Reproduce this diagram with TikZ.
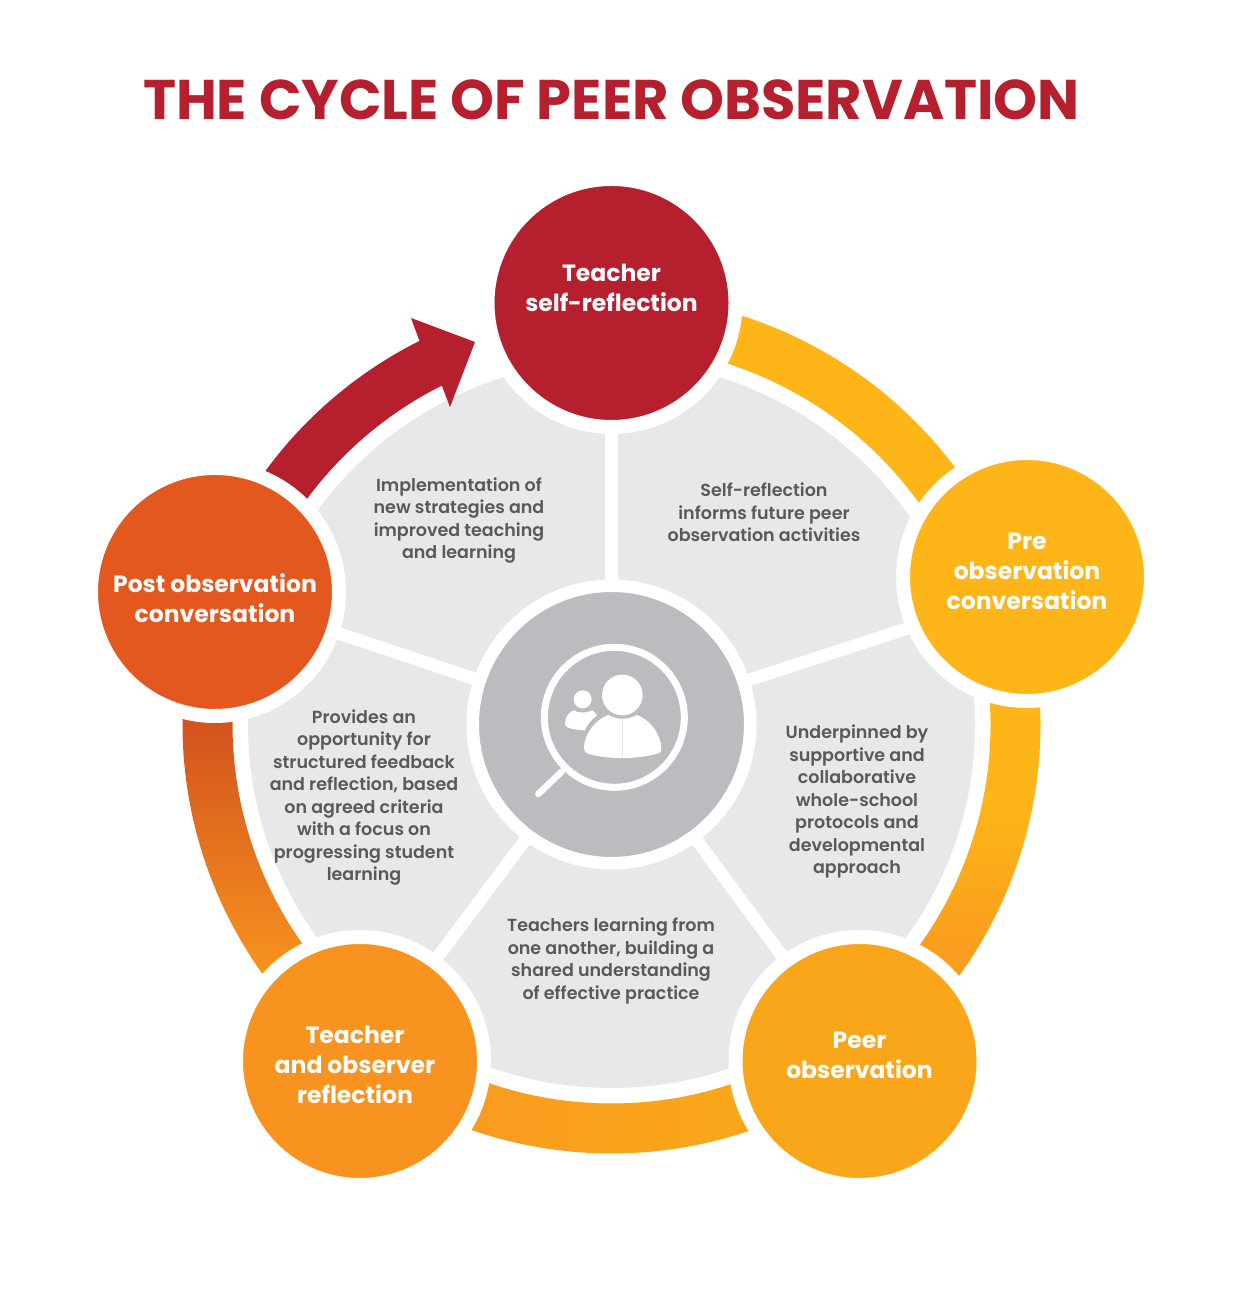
\documentclass[tikz,border=0pt]{standalone}
\usepackage{xcolor}
\usepackage{fontspec}
\setmainfont{Poppins}
\newfontfamily\blurbfont{Poppins SemiBold}
\usepackage{tikz}
\usetikzlibrary{calc}

\definecolor{vicred}{HTML}{B61F2E}
\definecolor{vicamber}{HTML}{FDB518}
\definecolor{vicgold}{HTML}{FAA61A}
\definecolor{vicorange}{HTML}{F7931E}
\definecolor{vicrust}{HTML}{E2581F}
\definecolor{vicdeep}{HTML}{D2521E}
\definecolor{vicmid}{HTML}{F99D1E}
\definecolor{vicpanel}{HTML}{E7E8EA}
\definecolor{vichub}{HTML}{BBBCBF}
\definecolor{vicink}{HTML}{58595B}

% gradients along the ring
\pgfdeclareverticalshading{rightband}{100bp}{color(0bp)=(vicmid); color(37bp)=(vicmid); color(51.5bp)=(vicamber); color(100bp)=(vicamber)}
\pgfdeclareverticalshading{leftband}{100bp}{color(0bp)=(vicorange); color(35bp)=(vicorange); color(61.4bp)=(vicdeep); color(100bp)=(vicdeep)}
\pgfdeclarehorizontalshading{lowerband}{100bp}{color(0bp)=(vicorange); color(40bp)=(vicmid); color(60bp)=(vicgold); color(100bp)=(vicgold)}

\newcommand{\ringpart}[2]{(#1:429) arc[start angle=#1, end angle=#2, radius=429] -- (#2:379) arc[start angle=#2, end angle=#1, radius=379] -- cycle}

\begin{document}
\begin{tikzpicture}[
    x=1pt, y=1pt,
    stage/.style={circle, draw=white, line width=14pt, outer sep=0pt, inner sep=0pt, minimum size=248pt},
    stagetext/.style={align=center, text=white, font=\fontsize{23.5}{30}\selectfont\bfseries},
    blurb/.style={align=center, text=vicink, font=\fontsize{17.5}{22.5}\selectfont\blurbfont},
    spoke/.style={draw=white, line width=12.5pt}
]
\useasboundingbox (0,0) rectangle (1240,1292);

\node[text=vicred, font=\fontsize{55.9}{60}\selectfont\bfseries] (title) at (611.5,1192) {THE CYCLE OF PEER OBSERVATION};

\node[circle, fill=vicpanel, inner sep=0pt, minimum size=727pt] (disc) at (611.5,567.5) {};

% ring round the panel
\begin{scope}[shift={(disc.center)}]
\fill[vicamber] \ringpart{90}{19.5};
\shade[shading=rightband] \ringpart{19.5}{-53.6};
\shade[shading=lowerband] \ringpart{-53.6}{-126.5};
\shade[shading=leftband] \ringpart{161.5}{233.5};
\fill[vicred] (155:429) arc[start angle=155, end angle=116.6, radius=429]
    -- (-200.5,406.5) -- (-136.5,382.5) -- (-161.5,317.5)
    -- (116.6:379) arc[start angle=116.6, end angle=155, radius=379] -- cycle;
\end{scope}

\node[circle, draw=white, fill=vichub, line width=12.5pt, outer sep=0pt, inner sep=0pt, minimum size=277.5pt] (hub) at (disc.center) {};

\node[stage, fill=vicred] (reflect) at (611.5,989) {};
\node[stage, fill=vicamber] (pre) at (1027,715) {};
\node[stage, fill=vicgold] (peer) at (859.5,231) {};
\node[stage, fill=vicorange] (joint) at (360,231) {};
\node[stage, fill=vicrust] (post) at (215,700) {};

\coordinate (prefoot) at (912,665);
\draw[spoke] (hub) -- (reflect);
\draw[spoke] (hub) -- (prefoot);
\draw[spoke] (hub) -- (peer);
\draw[spoke] (hub) -- (joint);
\draw[spoke] (hub) -- (post);

\node[stagetext] (reflectlabel) at ([yshift=15pt]reflect.center) {Teacher\\self-reflection};
\node[stagetext] (prelabel) at ([yshift=6pt]pre.center) {Pre\\observation\\conversation};
\node[stagetext] (peerlabel) at ([yshift=6pt]peer.center) {Peer\\observation};
\node[stagetext] (jointlabel) at ([xshift=-5pt,yshift=-4pt]joint.center) {Teacher\\and observer\\reflection};
\node[stagetext] (postlabel) at ([yshift=-6pt]post.center) {Post observation\\conversation};

\node[blurb] (blurbfive) at (459,771.5) {Implementation of\\new strategies and\\improved teaching\\and learning};
\node[blurb] (blurbone) at (764,779.5) {Self-reflection\\informs future peer\\observation activities};
\node[blurb] (blurbtwo) at (857,490.5) {Underpinned by\\supportive and\\collaborative\\whole-school\\protocols and\\developmental\\approach};
\node[blurb] (blurbthree) at (611,331) {Teachers learning from\\one another, building a\\shared understanding\\of effective practice};
\node[blurb] (blurbfour) at (364,494.5) {Provides an\\opportunity for\\structured feedback\\and reflection, based\\on agreed criteria\\with a focus on\\progressing student\\learning};

% magnifier and people, traced in a 3x grid
\begin{scope}[shift={(460,722)}, x=0.3333pt, y=-0.3333pt]
\draw[white, line width=7pt] (463,442) circle (210);
\draw[white, line width=6.5pt, line cap=round] (305,605) -- (235,672);
\fill[white] (487,375) circle (61);
\fill[white] (368,388) circle (27);
\fill[white] (445,435) .. controls (470,450) and (505,450) .. (530,435)
    .. controls (575,450) and (604,500) .. (604,535)
    .. controls (604,548) and (597,551) .. (585,553)
    .. controls (525,568) and (450,568) .. (390,553)
    .. controls (378,551) and (372,545) .. (372,530)
    .. controls (375,490) and (405,450) .. (445,435) -- cycle;
\fill[white] (340,421) .. controls (355,430) and (382,430) .. (397,421)
    .. controls (403,425) and (408,431) .. (411,437)
    .. controls (394,448) and (382,463) .. (375,481)
    .. controls (355,480) and (335,478) .. (322,472)
    .. controls (315,468) and (314,460) .. (316,452)
    .. controls (319,438) and (328,427) .. (340,421) -- cycle;
\draw[vicpanel, line width=0.3pt] (487,447) -- (487,563);
\end{scope}
\end{tikzpicture}
\end{document}
